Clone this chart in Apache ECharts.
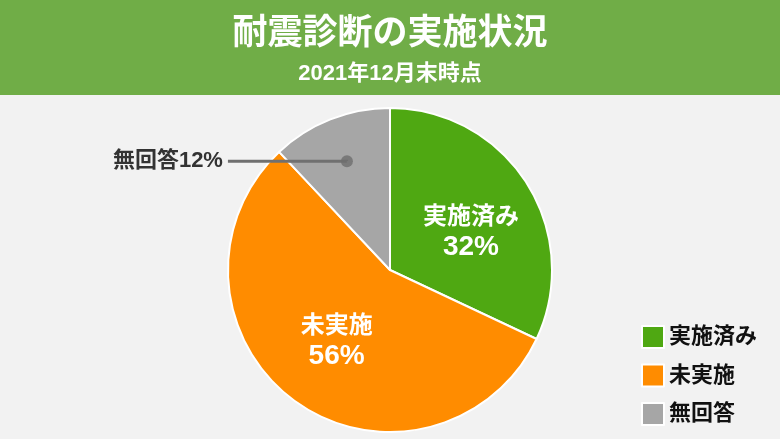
<!DOCTYPE html>
<html><head><meta charset="utf-8">
<script src="https://cdn.jsdelivr.net/npm/echarts@6/dist/echarts.min.js"></script>
<style>html,body{margin:0;padding:0;background:#f2f2f2}#c{width:780px;height:439px}</style>
</head><body><div id="c"></div>
<script>
const categories = ['実施済み', '未実施', '無回答'];
const values = [32, 56, 12];
const colors = ['#4fa812', '#ff8c00', '#a6a6a6'];
const titleText = '耐震診断の実施状況';
const subtitleText = '2021年12月末時点';

const FONT = '"Liberation Sans", "Noto Sans CJK JP", sans-serif';
const chart = echarts.init(document.getElementById('c'));
const total = values.reduce((a, b) => a + b, 0);
let cum = 0;
const mids = values.map(v => { const m = cum + v / 2; cum += v; return m; });

const insideOffsets = [[10, 7], [-4, 3], [0, 0]];
const data = categories.map((n, i) => ({
  name: n, value: values[i], itemStyle: { color: colors[i] },
  label: { show: i !== 2, offset: insideOffsets[i] }
}));

chart.setOption({
  backgroundColor: '#f2f2f2',
  animation: false,
  graphic: [{ type: 'rect', left: 0, top: 0, shape: { width: 780, height: 95 }, style: { fill: '#70ad47' }, z: -1 }],
  title: {
    text: titleText, subtext: subtitleText, left: 'center', top: 12, itemGap: 11,
    textStyle: { color: '#fff', fontSize: 35, fontWeight: 'bold', fontFamily: FONT },
    subtextStyle: { color: '#fff', fontSize: 22, fontWeight: 'bold', fontFamily: FONT }
  },
  legend: {
    orient: 'vertical', left: 641, top: 325, padding: 0, itemWidth: 22, itemHeight: 22, itemGap: 14.5,
    icon: 'rect', data: categories,
    textStyle: { color: '#111', fontSize: 22, fontWeight: 'bold', fontFamily: FONT }
  },
  polar: { center: [390, 270], radius: 162 },
  angleAxis: { type: 'value', min: 0, max: total, startAngle: 90, clockwise: true, show: false },
  radiusAxis: { type: 'value', min: 0, max: 162, show: false },
  series: [
    {
      type: 'pie', center: [390, 270], radius: 162, startAngle: 90, clockwise: true,
      data: data, silent: true,
      itemStyle: { borderColor: '#fff', borderWidth: 2 },
      label: {
        position: 'inside', formatter: p => '{n|' + p.name + '}\n{p|' + p.value + '%}',
        color: '#fff', fontWeight: 'bold', fontFamily: FONT,
        rich: {
          n: { color: '#fff', fontSize: 24, lineHeight: 30, fontWeight: 'bold', fontFamily: FONT },
          p: { color: '#fff', fontSize: 28, lineHeight: 30, fontWeight: 'bold', fontFamily: FONT }
        }
      },
      labelLine: { show: false },
      emphasis: { disabled: true }
    },
    {
      type: 'pie', center: [390, 270], radius: 117, startAngle: 90, clockwise: true,
      silent: true, z: 5,
      data: data.map((d, i) => ({
        name: d.name, value: d.value, itemStyle: { color: 'rgba(0,0,0,0)' },
        label: { show: i === 2 }, labelLine: { show: i === 2 }
      })),
      label: {
        position: 'outside', formatter: p => p.name + p.value + '%',
        color: '#333', fontSize: 22, fontWeight: 'bold', fontFamily: FONT, distanceToLabelLine: 5
      },
      labelLine: { length: 0.01, length2: 119, lineStyle: { color: '#707070', width: 3 } },
      emphasis: { disabled: true }
    },
    {
      type: 'scatter', coordinateSystem: 'polar', silent: true, z: 6,
      symbolSize: 12, itemStyle: { color: '#6e6e6e' },
      data: [[117, mids[2]]]
    }
  ]
});
</script></body></html>
